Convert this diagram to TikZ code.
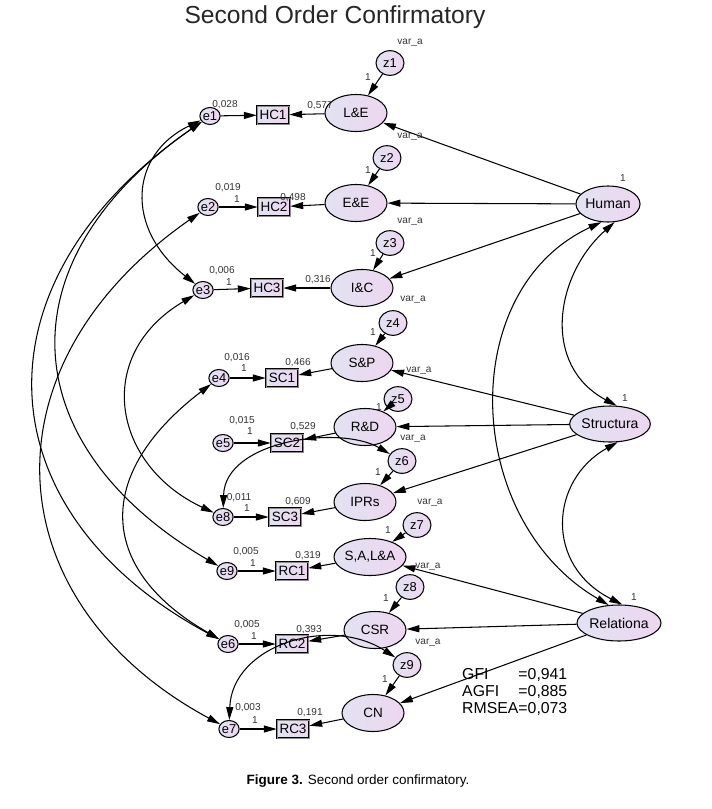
\documentclass[tikz,border=0pt]{standalone}
\usepackage{fontspec}
\setmainfont{Liberation Sans}
\usetikzlibrary{shapes.geometric,arrows.meta}
\definecolor{lavleft}{RGB}{226,226,242}
\definecolor{lavright}{RGB}{238,214,240}
% looks shared by the whole path diagram
\tikzset{
  latent/.style={ellipse, draw, line width=0.9pt, left color=lavleft, right color=lavright,
    minimum width=1.86cm, minimum height=1.11cm, inner sep=0pt, font=\fontsize{11.5}{12}\selectfont},
  factor/.style={latent, minimum width=1.9cm, minimum height=1.08cm, font=\fontsize{12}{13}\selectfont},
  resid/.style={latent, minimum width=0.84cm, minimum height=0.74cm, font=\fontsize{11}{12}\selectfont},
  errvar/.style={latent, minimum width=0.57cm, minimum height=0.51cm, font=\fontsize{11}{12}\selectfont},
  obsbox/.style={rectangle, draw=black, line width=0.5pt, double=black!45, double distance=0.5pt,
    left color=lavleft, right color=lavright, minimum width=0.96cm, minimum height=0.54cm,
    inner sep=0pt, font=\fontsize{11.5}{12}\selectfont},
  lab/.style={font=\fontsize{8.6}{9}\selectfont, inner sep=0pt, text=black!80},
  reg/.style={->, line width=0.9pt},
  covar/.style={<->, line width=0.9pt}
}

\begin{document}
\begin{tikzpicture}[x=0.03cm, y=-0.03cm, >={Triangle[length=11pt,width=6pt]}]
  \useasboundingbox (0,0) rectangle (712,809);
  \node[anchor=base, font=\fontsize{21}{24}\selectfont, text=black!85] (title) at (335,23) {Second Order Confirmatory};

  % second order factors
  \node[factor] (Hum) at (608,204) {Human};
  \node[factor] (Str) at (610,424) {Structura};
  \node[factor] (Rel) at (619,623) {Relationa};

  % first order factors
  \foreach \n/\t/\x/\y in {LE/L\&E/356/113, EE/E\&E/356/203, IC/I\&C/362/288,
      SP/S\&P/362/363, RD/R\&D/365/427, IPR/IPRs/365/502,
      SALA/{S,A,L\&A}/370/557, CSR/CSR/375/630, CN/CN/373/713}
    \node[latent] (\n) at (\x,\y) {\t};

  % disturbances
  \foreach \n/\x/\y in {z1/390/63, z2/387/158, z3/390/243, z4/393/323, z5/398/399,
      z6/402/461, z7/417/525, z8/410/587, z9/407/665}
    \node[resid] (\n) at (\x,\y) {\n};

  % indicators
  \foreach \n/\x/\y in {HC1/273/115, HC2/274/207, HC3/267/288, SC1/282/378, SC2/287/443,
      SC3/285/517, RC1/292/571, RC2/292/644, RC3/293/729}
    \node[obsbox] (\n) at (\x,\y) {\n};

  % measurement errors
  \foreach \n/\x/\y in {e1/210/116, e2/208/207, e3/203/290, e4/219/378, e5/223/443,
      e8/223/517, e9/227/571, e6/228/644, e7/229/729}
    \node[errvar] (\n) at (\x,\y) {\n};

  % loadings
  \foreach \f/\l in {Hum/LE, Hum/EE, Hum/IC, Str/SP, Str/RD, Str/IPR, Rel/SALA, Rel/CSR, Rel/CN}
    \draw[reg] (\f) -- (\l);
  \foreach \l/\b in {LE/HC1, EE/HC2, IC/HC3, SP/SC1, RD/SC2, IPR/SC3, SALA/RC1, CSR/RC2, CN/RC3}
    \draw[reg] (\l) -- (\b);
  \foreach \z/\l in {z1/LE, z2/EE, z3/IC, z4/SP, z5/RD, z6/IPR, z7/SALA, z8/CSR, z9/CN}
    \draw[reg] (\z) -- (\l);
  \foreach \e/\b in {e1/HC1, e2/HC2, e3/HC3, e4/SC1, e5/SC2, e8/SC3, e9/RC1, e6/RC2, e7/RC3}
    \draw[reg] (\e) -- (\b);

  % covariances
  \draw[covar] (e1) .. controls (130,154) and (124,228) .. (e3);
  \draw[covar] (e1) .. controls (-32,284) and (-16,513) .. (e6);
  \draw[covar] (e1) .. controls (-1,263) and (15,447) .. (e9);
  \draw[covar] (e2) .. controls (-23,368) and (-3,604) .. (e7);
  \draw[covar] (e3) .. controls (93,355) and (112,465) .. (e8);
  \draw[covar] (e4) .. controls (91,476) and (100,571) .. (e6);
  \draw[covar] (e8) .. controls (225,440) and (340,425) .. (z6);
  \draw[covar] (e7) .. controls (232,645) and (330,615) .. (z9);
  \draw[covar] (Hum.290) .. controls (555,275) and (541,365) .. (Str.70);
  \draw[covar] (Str.293) .. controls (550,480) and (544,565) .. (Rel.80);
  \draw[covar] (Hum.250) .. controls (455,290) and (463,520) .. (Rel.120);

  % estimates
  \foreach \n/\t/\dx/\dy in {e1/{0,028}/15/-11, e2/{0,019}/20/-19, e3/{0,006}/19/-19,
      e4/{0,016}/18/-20, e5/{0,015}/19/-22, e8/{0,011}/16/-19, e9/{0,005}/19/-19,
      e6/{0,005}/19/-19, e7/{0,003}/19/-21}
    \node[lab] (v\n) at ([shift={(\dx,\dy)}]\n) {\t};
  \foreach \n/\dx/\dy in {e2/29/-8, e3/26/-8, e4/25/-10, e5/27/-12, e8/24/-9,
      e9/26/-8, e6/26/-8, e7/26/-9}
    \node[lab] (one\n) at ([shift={(\dx,\dy)}]\n) {1};
  \foreach \n/\t/\dx/\dy in {HC1/{0,577}/47/-9, HC2/{0,498}/19/-9, HC3/{0,316}/51/-8,
      SC1/{0,466}/16/-15, SC2/{0,529}/16/-16, SC3/{0,609}/13/-15, RC1/{0,319}/16/-15,
      RC2/{0,393}/17/-14, RC3/{0,191}/17/-16}
    \node[lab] (r\n) at ([shift={(\dx,\dy)}]\n) {\t};
  \foreach \n/\dx/\dy/\vx/\vy in {z1/-22/14/20/-20, z2/-19/12/23/-21, z3/-17/10/20/-21,
      z4/-20/9/20/-23, z5/-19/8/21/-28, z6/-24/11/11/-22, z7/-29/5/13/-22,
      z8/-24/11/18/-20, z9/-22/14/21/-22}
  {
    \node[lab] (one\n) at ([shift={(\dx,\dy)}]\n) {1};
    \node[lab] (var\n) at ([shift={(\vx,\vy)}]\n) {var\_a};
  }
  \foreach \n in {Hum, Str, Rel}
    \node[lab] (one\n) at ([shift={(15,-26)}]\n) {1};

  % fit indices
  \node[anchor=west, inner sep=0pt, font=\fontsize{13.5}{14.9}\selectfont] (fit) at (462,693)
    {\begin{tabular}{@{}l@{}l@{}}GFI&=0,941\\AGFI&=0,885\\RMSEA&=0,073\end{tabular}};

  \node[anchor=base, font=\fontsize{11.5}{13}\selectfont] (caption) at (358,784)
    {\textbf{Figure 3.} Second order confirmatory.};
\end{tikzpicture}
\end{document}
